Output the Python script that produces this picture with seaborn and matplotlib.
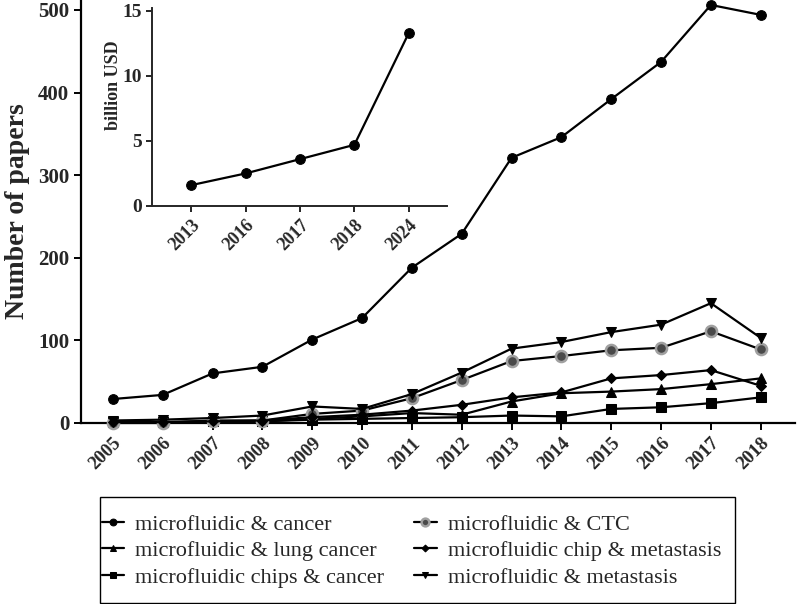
import matplotlib
matplotlib.use("Agg")
import matplotlib.pyplot as plt
from matplotlib.patches import Rectangle
import seaborn as sns
import pandas as pd

sns.set_style("ticks")
plt.rcParams['font.family'] = ['Liberation Serif', 'DejaVu Serif']

years = [2005, 2006, 2007, 2008, 2009, 2010, 2011, 2012, 2013, 2014, 2015, 2016, 2017, 2018]
cancer = [29, 34, 60, 68, 101, 127, 188, 229, 321, 346, 392, 437, 506, 494]
lung_cancer = [1, 1, 2, 2, 5, 8, 12, 10, 26, 36, 38, 41, 47, 54]
chips_cancer = [1, 1, 2, 2, 4, 5, 6, 7, 9, 8, 17, 19, 24, 31]
ctc = [0, 0, 3, 3, 11, 15, 30, 52, 75, 81, 88, 91, 111, 89]
chip_metastasis = [1, 1, 2, 3, 7, 10, 15, 22, 31, 37, 54, 58, 64, 45]
metastasis = [3, 4, 6, 9, 20, 17, 35, 61, 90, 98, 110, 119, 145, 103]

labels = ["microfluidic & cancer", "microfluidic & lung cancer", "microfluidic chips & cancer",
          "microfluidic & CTC", "microfluidic chip & metastasis", "microfluidic & metastasis"]

inset_years = ["2013", "2016", "2017", "2018", "2024"]
inset_values = [1.6, 2.5, 3.6, 4.7, 13.3]

fig = plt.figure(figsize=(7.97, 6.04), dpi=100)
ax = fig.add_axes([0.1016, 0.2997, 0.8954, 0.7003])

series = [cancer, lung_cancer, chips_cancer, ctc, chip_metastasis, metastasis]
styles = [
    dict(marker='o', markersize=7, markerfacecolor='black', markeredgecolor='black'),
    dict(marker='^', markersize=7, markerfacecolor='black', markeredgecolor='black'),
    dict(marker='s', markersize=7, markerfacecolor='black', markeredgecolor='black'),
    dict(marker='o', markersize=8, markerfacecolor='#4a4a4a', markeredgecolor='#a0a0a0', markeredgewidth=1.8),
    dict(marker='D', markersize=5, markerfacecolor='black', markeredgecolor='black'),
    dict(marker='v', markersize=7, markerfacecolor='black', markeredgecolor='black'),
]
order = [0, 1, 2, 4, 5, 3]
handles = {}
for i in order:
    df = pd.DataFrame({"year": years, "papers": series[i]})
    sns.lineplot(data=df, x="year", y="papers", ax=ax, color='black', linewidth=1.6,
                 clip_on=False, zorder=3 + i, **styles[i])
    handles[i] = ax.lines[-1]

ax.set_xlim(2004.36, 2018.68)
ax.set_ylim(0, 512)
ax.set_yticks([0, 100, 200, 300, 400, 500])
ax.set_xticks(years)
ax.set_xticklabels([str(y) for y in years], rotation=45, ha='right', rotation_mode='anchor',
                   fontsize=13.5, fontweight='bold')
for t in ax.get_yticklabels():
    t.set_fontsize(15)
    t.set_fontweight('bold')
ax.set_xlabel("")
ax.set_ylabel("Number of papers", fontsize=20, fontweight='bold', labelpad=6)
sns.despine(ax=ax)
for s in ['left', 'bottom']:
    ax.spines[s].set_linewidth(1.6)
    ax.spines[s].set_color('black')
ax.tick_params(axis='both', width=1.4, length=5, color='black', direction='out')

# inset
axi = fig.add_axes([0.1907, 0.659, 0.370, 0.328])
dfi = pd.DataFrame({"year": inset_years, "value": inset_values})
sns.lineplot(data=dfi, x="year", y="value", ax=axi, color='black', linewidth=1.6,
             marker='o', markersize=7, markerfacecolor='black', markeredgecolor='black', sort=False)
axi.set_xlim(-0.72, 4.7)
axi.set_ylim(0, 15.23)
axi.set_yticks([0, 5, 10, 15])
axi.set_xticks(range(len(inset_years)))
axi.set_xticklabels(inset_years, rotation=45, ha='right', rotation_mode='anchor',
                    fontsize=13, fontweight='bold')
for t in axi.get_yticklabels():
    t.set_fontsize(14)
    t.set_fontweight('bold')
axi.set_xlabel("")
axi.set_ylabel("billion USD", fontsize=13, fontweight='bold')
axi.yaxis.set_label_coords(-0.10, 0.61)
sns.despine(ax=axi)
for s in ['left', 'bottom']:
    axi.spines[s].set_linewidth(1.4)
axi.tick_params(axis='both', width=1.2, length=4, color='black', direction='out')
axi.patch.set_alpha(0)

# legend frame
fig.patches.append(Rectangle((0.1255, 0.0017), 0.7967, 0.1753, transform=fig.transFigure,
                             fill=False, edgecolor='black', linewidth=1.0))
leg = fig.legend([handles[i] for i in range(6)], labels, ncol=2,
                 loc='upper left', bbox_to_anchor=(0.128, 0.149),
                 frameon=False, fontsize=16, handlelength=1.0, markerscale=0.7,
                 borderpad=0, borderaxespad=0, labelspacing=0.27, columnspacing=1.35,
                 handletextpad=0.5)

fig.savefig("out.png", dpi=100)
